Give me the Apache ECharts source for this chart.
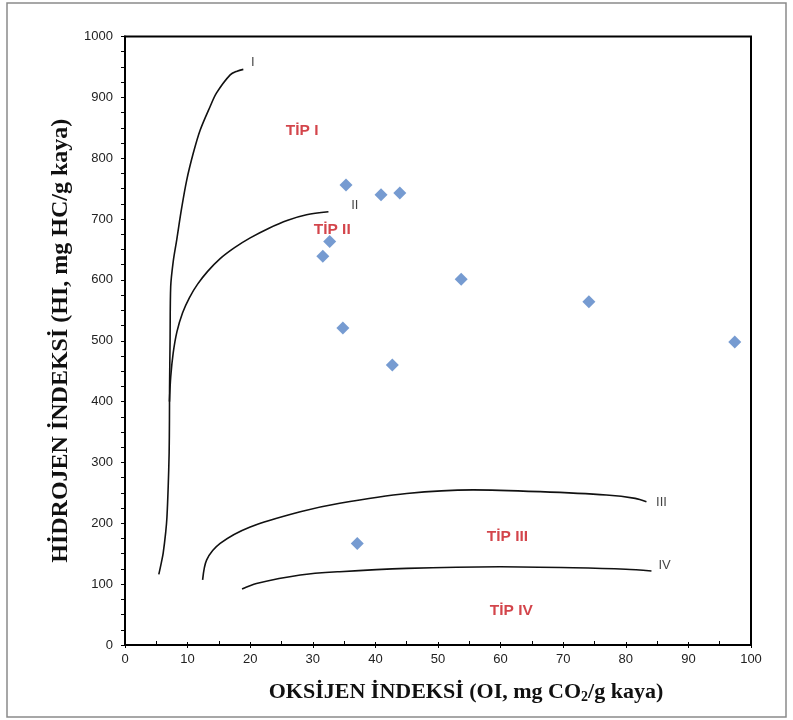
<!DOCTYPE html>
<html>
<head>
<meta charset="utf-8">
<script src="https://cdn.jsdelivr.net/npm/echarts@6/dist/echarts.min.js"></script>
<style>html,body{margin:0;padding:0;background:#fff}#c{width:793px;height:720px}</style>
</head>
<body>
<div id="c"></div>
<script>
// Sample points (OI, HI)
const sampleOI = [35.3, 40.9, 43.9, 32.7, 31.6, 53.7, 74.1, 97.4, 34.8, 42.7, 37.1];
const sampleHI = [756, 740, 743, 663, 639, 601, 564, 498, 521, 460, 167];

// Kerogen evolution curves
const curveI_OI  = [5.4, 5.8, 6.1, 6.5, 6.7, 6.9, 7.05, 7.1, 7.12, 7.2, 7.3, 7.7, 8.25, 9.0, 9.86, 10.9, 12.0, 13.6, 14.6, 16.8, 17.9, 18.9];
const curveI_HI  = [116, 135, 151, 185, 210, 260, 315, 370, 424, 500, 589, 630, 665, 715, 764, 808, 846, 885, 907, 937, 943, 946];
const curveII_OI = [7.1, 7.3, 7.7, 8.3, 9.2, 10.3, 11.6, 13.2, 15.2, 17.5, 20.0, 23.0, 26.0, 29.0, 32.5];
const curveII_HI = [400, 440, 480, 515, 546, 571, 593, 614, 635, 653, 669, 685, 698, 707, 712];
const curveIII_OI = [12.4, 13.05, 15.2, 20, 28, 34.3, 45, 55.6, 66.3, 76.9, 81.5, 83.3];
const curveIII_HI = [107, 140, 167, 194, 219, 233, 249, 255, 252, 246.5, 241, 235.5];
const curveIV_OI = [18.7, 21, 28, 34.3, 45, 59.9, 71.6, 80, 84.1];
const curveIV_HI = [92, 101, 115, 120.5, 126, 128.7, 127, 124.5, 121.6];

// Curve labels
const curveLabels = ['I', 'II', 'III', 'IV'];
const curveLabelOI = [20.4, 36.7, 85.7, 86.2];
const curveLabelHI = [958, 723, 234, 130];

// Region labels
const regionLabels = ['TİP I', 'TİP II', 'TİP III', 'TİP IV'];
const regionLabelOI = [28.3, 33.1, 61.1, 61.7];
const regionLabelHI = [845, 683, 178, 56];

const zip = (a, b) => a.map((v, i) => [v, b[i]]);

const chart = echarts.init(document.getElementById('c'), null, {renderer: 'canvas'});
const lineStyle = {color: '#111', width: 1.6};
const curve = (xs, ys) => ({
  type: 'line', data: zip(xs, ys), smooth: 0.3, symbol: 'none',
  lineStyle: lineStyle, silent: true, z: 2
});
const tickFont = {fontFamily: 'Liberation Sans, Arial, sans-serif', fontSize: 13, color: '#222'};
const serif = 'Liberation Serif, Times New Roman, serif';

chart.setOption({
  animation: false,
  backgroundColor: '#fff',
  graphic: [{
    type: 'rect', shape: {x: 7, y: 3, width: 779, height: 714},
    style: {fill: 'none', stroke: '#8a8a8a', lineWidth: 1.5}, silent: true, z: -10
  }],
  grid: {left: 125, right: 42, top: 36.5, bottom: 75, show: true, borderColor: '#000', borderWidth: 2, backgroundColor: 'transparent'},
  xAxis: [{
    type: 'value', min: 0, max: 100, interval: 10,
    axisLine: {show: true, lineStyle: {color: '#000', width: 2}},
    axisTick: {show: true, inside: true, length: 3, lineStyle: {color: '#000', width: 1}},
    minorTick: {show: true, splitNumber: 2, length: 4, lineStyle: {color: '#000', width: 1}},
    splitLine: {show: false},
    axisLabel: Object.assign({margin: 8, formatter: v => String(v)}, tickFont),
    name: '{a|OKSİJEN İNDEKSİ (OI, mg CO}{s|2}{a|/g kaya)}',
    nameLocation: 'middle', nameGap: 35,
    nameTextStyle: {
      padding: [0, 0, 0, 56],
      rich: {
        a: {fontFamily: serif, fontWeight: 'bold', fontSize: 22, color: '#111'},
        s: {fontFamily: serif, fontWeight: 'bold', fontSize: 14, color: '#111', padding: [10, 0, 0, 0]}
      }
    }
  }, {
    type: 'value', min: 0, max: 100, interval: 10, position: 'bottom',
    axisLine: {show: false},
    axisTick: {show: true, inside: false, length: 3, lineStyle: {color: '#000', width: 1}},
    axisLabel: {show: false}, splitLine: {show: false}
  }],
  yAxis: {
    type: 'value', min: 0, max: 1000, interval: 100,
    axisLine: {show: true, lineStyle: {color: '#000', width: 2}},
    axisTick: {show: true, inside: false, length: 4, lineStyle: {color: '#000', width: 1}},
    minorTick: {show: true, splitNumber: 4, length: 4, lineStyle: {color: '#000', width: 1}},
    splitLine: {show: false},
    axisLabel: Object.assign({margin: 12, formatter: v => String(v)}, tickFont),
    name: 'HİDROJEN İNDEKSİ (HI, mg HC/g kaya)',
    nameLocation: 'middle', nameGap: 39, nameRotate: 90,
    nameTextStyle: {fontFamily: serif, fontWeight: 'bold', fontSize: 24, color: '#111'}
  },
  series: [
    curve(curveI_OI, curveI_HI),
    curve(curveII_OI, curveII_HI),
    curve(curveIII_OI, curveIII_HI),
    curve(curveIV_OI, curveIV_HI),
    {
      type: 'scatter', data: zip(sampleOI, sampleHI), symbol: 'diamond', symbolSize: 13,
      itemStyle: {color: '#5482c6'}, z: 5
    },
    {
      type: 'scatter', symbolSize: 0, silent: true, z: 6,
      data: curveLabels.map((t, i) => ({name: t, value: [curveLabelOI[i], curveLabelHI[i]]})),
      label: {show: true, position: 'inside', formatter: p => p.name, fontFamily: 'Liberation Sans, Arial, sans-serif', fontSize: 13, color: '#111'}
    },
    {
      type: 'scatter', symbolSize: 0, silent: true, z: 6,
      data: regionLabels.map((t, i) => ({name: t, value: [regionLabelOI[i], regionLabelHI[i]]})),
      label: {show: true, position: 'inside', formatter: p => p.name, fontFamily: 'Liberation Sans, Arial, sans-serif', fontWeight: 'bold', fontSize: 15.5, color: '#c8161e'}
    }
  ]
});
</script>
</body>
</html>
